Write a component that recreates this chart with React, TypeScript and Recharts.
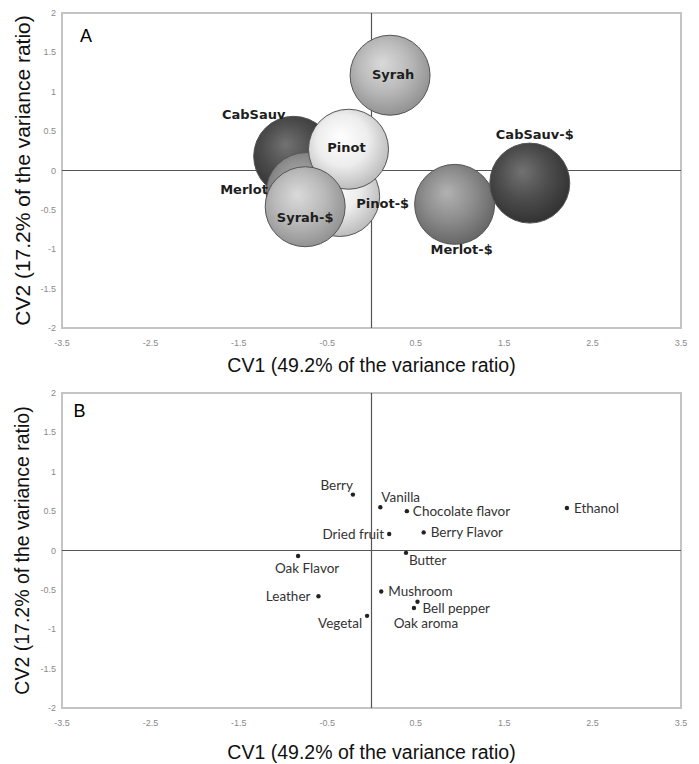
import React from "react";
import {
  ReferenceArea,
  ReferenceLine,
  Scatter,
  ScatterChart,
  XAxis,
  YAxis,
} from "recharts";

// axes shared by both panels
const xTicks = [-3.5, -2.5, -1.5, -0.5, 0.5, 1.5, 2.5, 3.5];
const yTicks = [-2, -1.5, -1, -0.5, 0, 0.5, 1, 1.5, 2];
const xTitle = "CV1 (49.2% of the variance ratio)";
const yTitle = "CV2 (17.2% of the variance ratio)";

// panel A: wine groups (listed in drawing order, back to front)
const wineNames = ["CabSauv", "Merlot", "Pinot-$", "Pinot", "Syrah-$", "Syrah", "Merlot-$", "CabSauv-$"];
const wineCV1 = [-0.88, -0.74, -0.36, -0.26, -0.75, 0.21, 0.94, 1.79];
const wineCV2 = [0.18, -0.28, -0.33, 0.27, -0.46, 1.21, -0.43, -0.16];

// panel B: sensory attributes
const attrNames = [
  "Berry", "Vanilla", "Chocolate flavor", "Ethanol", "Dried fruit", "Berry Flavor", "Butter",
  "Oak Flavor", "Mushroom", "Leather", "Bell pepper", "Oak aroma", "Vegetal",
];
const attrCV1 = [-0.21, 0.1, 0.4, 2.21, 0.2, 0.59, 0.39, -0.83, 0.11, -0.6, 0.52, 0.48, -0.05];
const attrCV2 = [0.71, 0.55, 0.5, 0.54, 0.21, 0.23, -0.03, -0.07, -0.52, -0.58, -0.65, -0.73, -0.83];

const wineData = wineNames.map((name, i) => ({ name, x: wineCV1[i], y: wineCV2[i] }));
const attrData = attrNames.map((name, i) => ({ name, x: attrCV1[i], y: attrCV2[i] }));

// sphere shading per varietal: highlight, body, rim
const tones: Record<string, [string, string, string]> = {
  CabSauv: ["#727272", "#4c4c4c", "#333333"],
  Merlot: ["#b2b2b2", "#8c8c8c", "#676767"],
  Syrah: ["#dadada", "#b9b9b9", "#939393"],
  Pinot: ["#ffffff", "#ededed", "#bdbdbd"],
};

// label placement relative to the bubble centre
const wineLabelAt: Record<string, [number, number]> = {
  CabSauv: [-40, -42],
  Merlot: [-62, -3],
  "Pinot-$": [43, 7],
  Pinot: [-2, -2],
  "Syrah-$": [0, 11],
  Syrah: [3, -1],
  "Merlot-$": [7, 45],
  "CabSauv-$": [5, -49],
};

const attrLabelAt: Record<string, ["start" | "middle" | "end", number, number]> = {
  Berry: ["end", 0, -10],
  Vanilla: ["start", 1, -10],
  "Chocolate flavor": ["start", 6, 0],
  Ethanol: ["start", 7, 0],
  "Dried fruit": ["end", -5, 0],
  "Berry Flavor": ["start", 7, 0],
  Butter: ["start", 3, 7],
  "Oak Flavor": ["middle", 9, 12],
  Mushroom: ["start", 7, 0],
  Leather: ["end", -8, 0],
  "Bell pepper": ["start", 5, 6],
  "Oak aroma": ["middle", 12, 15],
  Vegetal: ["end", -5, 7],
};

const SANS = "'Liberation Sans', Arial, sans-serif";

function Bubble(props: any) {
  const { cx, cy, payload, index } = props;
  if (cx == null || cy == null) return null;
  const name: string = payload.name;
  const [hi, body, rim] = tones[name.replace("-$", "")];
  const [dx, dy] = wineLabelAt[name] ?? [0, 0];
  const id = `sphere-${index}`;
  return (
    <g>
      <defs>
        <radialGradient id={id} cx="45%" cy="42%" r="58%" fx="40%" fy="35%">
          <stop offset="0%" stopColor={hi} />
          <stop offset="55%" stopColor={body} />
          <stop offset="100%" stopColor={rim} />
        </radialGradient>
      </defs>
      <circle cx={cx} cy={cy} r={40} fill={`url(#${id})`} stroke="#555" strokeWidth={1} />
      <text
        x={cx + dx}
        y={cy + dy}
        textAnchor="middle"
        dominantBaseline="central"
        fontFamily="'DejaVu Sans', Verdana, sans-serif"
        fontWeight="bold"
        fontSize={13}
        fill="#1e1e1e"
      >
        {name}
      </text>
    </g>
  );
}

function AttrDot(props: any) {
  const { cx, cy, payload } = props;
  if (cx == null || cy == null) return null;
  const [anchor, dx, dy] = attrLabelAt[payload.name] ?? ["start", 6, 0];
  return (
    <g>
      <circle cx={cx} cy={cy} r={2.2} fill="#222" />
      <text
        x={cx + dx}
        y={cy + dy}
        textAnchor={anchor}
        dominantBaseline="central"
        fontFamily="Lato, 'Noto Sans', sans-serif"
        fontSize={13.5}
        fill="#333"
      >
        {payload.name}
      </text>
    </g>
  );
}

const XTick = ({ x, y, payload }: any) => (
  <text x={x} y={y + 15} textAnchor="middle" dominantBaseline="central" fontSize={9} fill="#8a8a8a" fontFamily={SANS}>
    {payload.value}
  </text>
);

const YTick = ({ x, y, payload }: any) => (
  <text x={x - 6} y={y} textAnchor="end" dominantBaseline="central" fontSize={9} fill="#8a8a8a" fontFamily={SANS}>
    {payload.value}
  </text>
);

interface PanelProps {
  letter: string;
  data: { name: string; x: number; y: number }[];
  shape: (p: any) => React.ReactElement | null;
  top: number;
  axisHeight: number;
  xTitleDy: number;
  yTitleSize: number;
  letterAt: [number, number, number];
}

function Panel({ letter, data, shape, top, axisHeight, xTitleDy, yTitleSize, letterAt }: PanelProps) {
  return (
    <ScatterChart width={699} height={382} margin={{ top, right: 18, bottom: 0, left: 0 }}>
      <XAxis
        type="number"
        dataKey="x"
        domain={[-3.5, 3.5]}
        ticks={xTicks}
        interval={0}
        axisLine={false}
        tickLine={false}
        tickSize={0}
        tickMargin={0}
        height={axisHeight}
        tick={XTick}
        label={{
          content: ({ viewBox }: any) => (
            <text
              x={viewBox.x + viewBox.width / 2}
              y={viewBox.y + xTitleDy}
              textAnchor="middle"
              dominantBaseline="central"
              fontFamily={SANS}
              fontSize={19.5}
              fill="#111"
            >
              {xTitle}
            </text>
          ),
        }}
      />
      <YAxis
        type="number"
        dataKey="y"
        domain={[-2, 2]}
        ticks={yTicks}
        interval={0}
        axisLine={false}
        tickLine={false}
        tickSize={0}
        tickMargin={0}
        width={62}
        tick={YTick}
        label={{
          content: ({ viewBox }: any) => {
            const cy = viewBox.y + viewBox.height / 2;
            return (
              <text
                x={22}
                y={cy}
                transform={`rotate(-90 22 ${cy})`}
                textAnchor="middle"
                dominantBaseline="central"
                fontFamily={SANS}
                fontSize={yTitleSize}
                fill="#111"
              >
                {yTitle}
              </text>
            );
          },
        }}
      />
      <ReferenceArea
        x1={-3.5}
        x2={3.5}
        y1={-2}
        y2={2}
        fill="none"
        fillOpacity={0}
        stroke="#c4c4c4"
        strokeWidth={2}
        label={{
          content: ({ viewBox }: any) => (
            <text x={viewBox.x + letterAt[0]} y={viewBox.y + letterAt[1]} fontFamily={SANS} fontSize={letterAt[2]} fill="#000">
              {letter}
            </text>
          ),
        }}
      />
      <ReferenceLine x={0} stroke="#555" strokeWidth={1.2} />
      <ReferenceLine y={0} stroke="#555" strokeWidth={1.2} />
      <Scatter data={data} shape={shape} isAnimationActive={false} />
    </ScatterChart>
  );
}

export default function App() {
  return (
    <div style={{ position: "absolute", left: 0, top: 0, width: 699, height: 764, background: "#fff" }}>
      <Panel
        letter="A"
        data={wineData}
        shape={(p) => <Bubble {...p} />}
        top={13}
        axisHeight={54}
        xTitleDy={37}
        yTitleSize={21}
        letterAt={[18, 29, 18]}
      />
      <Panel
        letter="B"
        data={attrData}
        shape={(p) => <AttrDot {...p} />}
        top={11}
        axisHeight={56}
        xTitleDy={44}
        yTitleSize={19.5}
        letterAt={[11.5, 24, 18]}
      />
    </div>
  );
}
